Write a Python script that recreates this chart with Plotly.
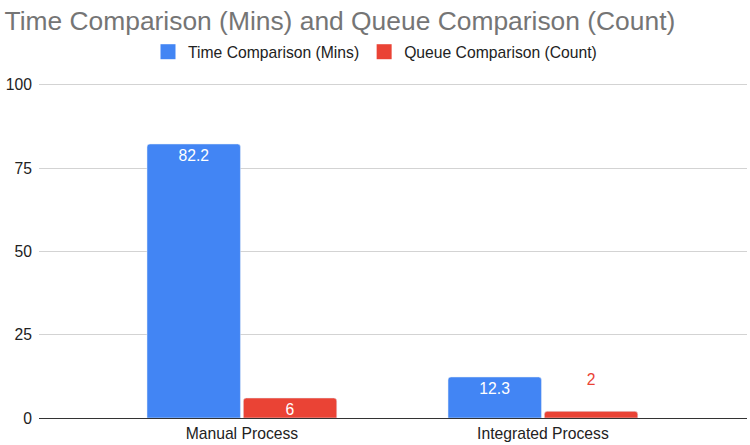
import plotly.graph_objects as go

categories = ["Manual Process", "Integrated Process"]
time_mins = [82.2, 12.3]
queue_count = [6, 2]
time_labels = ["82.2", "12.3"]
queue_labels = ["6", "2"]
y_ticks = [0, 25, 50, 75, 100]

BLUE = "#4285F4"
RED = "#EA4335"
FONT = "Liberation Sans, Arial, sans-serif"
FS = 15.7

fig = go.Figure()
fig.add_trace(go.Bar(
    name="Time Comparison (Mins)", x=categories, y=time_mins,
    marker_color=BLUE, text=time_labels, textposition="inside",
    insidetextanchor="end", constraintext="none", textangle=0,
    insidetextfont=dict(color="white", size=FS, family=FONT),
    showlegend=False,
))
fig.add_trace(go.Bar(
    name="Queue Comparison (Count)", x=categories, y=queue_count,
    marker_color=RED, text=queue_labels, textposition=["inside", "outside"],
    texttemplate=["%{text}", "%{text}<br> "],
    insidetextanchor="end", constraintext="none", cliponaxis=False, textangle=0,
    insidetextfont=dict(color="white", size=FS, family=FONT),
    outsidetextfont=dict(color=RED, size=FS, family=FONT),
    showlegend=False,
))
# legend entries with larger square swatches
for name, col in [("Time Comparison (Mins)", BLUE), ("Queue Comparison (Count)", RED)]:
    fig.add_trace(go.Scatter(
        name=name, x=[None], y=[None], mode="markers",
        marker=dict(symbol="square", size=15, color=col, line=dict(width=0)),
        showlegend=True,
    ))

fig.update_layout(
    width=750, height=445,
    margin=dict(l=39, r=3, t=83, b=27),
    paper_bgcolor="white", plot_bgcolor="white",
    font=dict(family=FONT, size=FS, color="#222222"),
    title=dict(text="Time Comparison (Mins) and Queue Comparison (Count)",
               x=0.006, xanchor="left", xref="container",
               y=1 - 21 / 445, yanchor="middle", yref="container",
               font=dict(size=26.4, color="#757575", family=FONT)),
    legend=dict(orientation="h", x=0.5, xanchor="center", xref="container",
                y=1 - 52 / 445, yanchor="middle", yref="container",
                font=dict(size=FS, color="#222222")),
    barmode="group", bargap=0.36, bargroupgap=0.03, barcornerradius=3,
    xaxis=dict(type="category", range=[-0.674, 1.678], showgrid=False, showline=False,
               ticks="", ticklabelstandoff=4,
               tickfont=dict(size=FS, color="#222222")),
    yaxis=dict(range=[0, 100.5], tickvals=y_ticks, showgrid=True,
               gridcolor="#d3d3d3", gridwidth=1,
               zeroline=True, zerolinecolor="#333333", zerolinewidth=1,
               ticks="", ticklabelstandoff=6,
               tickfont=dict(size=FS, color="#222222")),
)

fig.write_html("out.html")
